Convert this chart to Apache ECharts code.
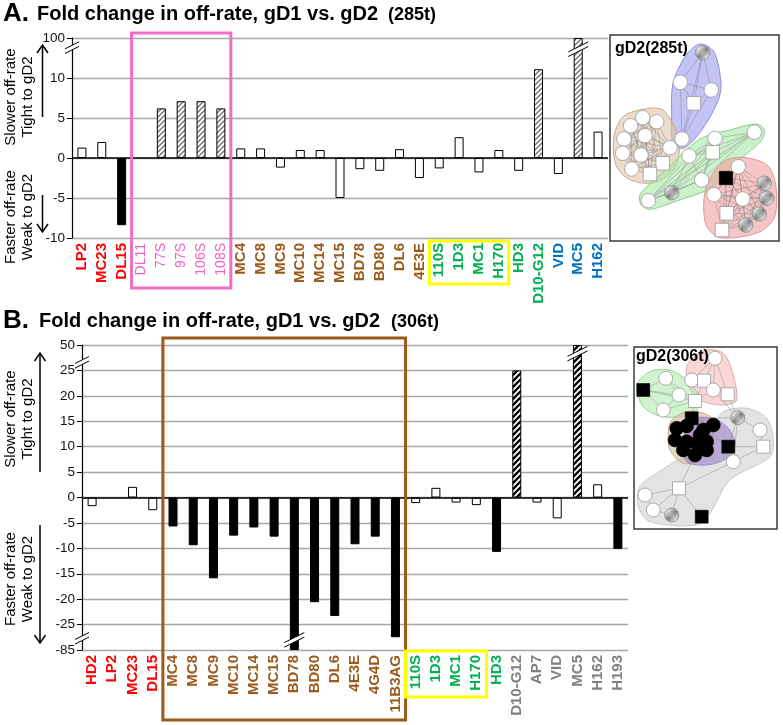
<!DOCTYPE html>
<html><head><meta charset="utf-8">
<script src="https://cdn.jsdelivr.net/npm/echarts@6/dist/echarts.min.js"></script>
<style>html,body{margin:0;padding:0;background:#fff}#c{width:783px;height:725px}</style>
</head><body><div id="c"></div>
<script>
// ---------------- Panel A data ----------------
const catsA  = ['LP2','MC23','DL15','DL11','77S','97S','106S','108S','MC4','MC8','MC9','MC10','MC14','MC15','BD78','BD80','DL6','4E3E','110S','1D3','MC1','H170','HD3','D10-G12','VID','MC5','H162'];
const groupA = ['r','r','r','p','p','p','p','p','b','b','b','b','b','b','b','b','b','b','g','g','g','g','g','g','u','u','u'];
const valsA  = [1.3,2.0,-8.4,null,6.2,7.1,7.1,6.2,1.2,1.2,-1.2,1.0,1.0,-5.0,-1.4,-1.6,1.1,-2.5,-1.3,2.6,-1.8,1.0,-1.6,11.1,-2.0,100,3.3];
const kindA  = ['w','w','k','w','h','h','h','h','w','w','w','w','w','w','w','w','w','w','w','w','w','w','w','h','w','h','w'];
const tickPosA = [-10,-5,0,5,10,15];
const tickLabA = ['-10','-5','0','5','10','100'];

// ---------------- Panel B data ----------------
const catsB  = ['HD2','LP2','MC23','DL15','MC4','MC8','MC9','MC10','MC14','MC15','BD78','BD80','DL6','4E3E','4G4D','11B3AG','110S','1D3','MC1','H170','HD3','D10-G12','AP7','VID','MC5','H162','H193'];
const groupB = ['r','r','r','r','b','b','b','b','b','b','b','b','b','b','b','b','g','g','g','g','g','y','y','y','y','y','y'];
const valsB  = [-1.7,null,2.1,-2.5,-5.7,-9.4,-15.9,-7.5,-5.9,-7.7,-85,-20.6,-23.3,-9.2,-7.7,-27.5,-1.1,1.9,-1.0,-1.5,-10.7,25,-1.0,-4.1,50,2.6,-10.1];
const kindB  = ['w','w','w','w','k','k','k','k','k','k','k','k','k','k','k','k','w','w','w','w','k','h','w','w','h','w','k'];
const tickPosB = [-30,-25,-20,-15,-10,-5,0,5,10,15,20,25,30];
const tickLabB = ['-85','-25','-20','-15','-10','-5','0','5','10','15','20','25','50'];

// ---------------- Inset networks (inset-local units) ----------------
const netA_x   = [92.7,70.3,101.3,83.7,72,   32.7,20.7,46.7,14,35,12.7,31,60,21.7,52.7,40,   105,144.3,79,91.7,38.3,102.7,61.7,   116,128.3,104,132.7,154.3,156.7,149.3,135.7,116.7,112];
const netA_y   = [17.7,47.3,55,68.3,104,   82.7,90.7,86.7,104,100.7,118.3,120,112.7,134,128.3,139,   103.3,97.3,121,145,165.7,117.3,157.7,   143,131.7,159.7,164,148.3,163.3,179,190,178.3,195];
const netA_k   = ['hc','c','c','s','c',  'c','c','c','c','c','c','c','c','c','s','s',  'c','c','c','c','c','s','hc',  'ks','c','c','c','hc','hc','hc','hc','s','s'];
const netA_cl  = [0,0,0,0,0, 1,1,1,1,1,1,1,1,1,1,1, 2,2,2,2,2,2,2, 3,3,3,3,3,3,3,3,3,3];
const hullsA = [
  [[90,9],[104,17],[111,48.3],[107.7,66.7],[91,96],[74,113],[63,109],[61.7,78.3],[63,48.3],[75.7,20.7]],
  [[26.7,75.7],[51,74],[64.3,91.7],[69.3,115],[62.7,136],[43.3,148],[19,144.3],[5.7,129.3],[4,101.7],[12.3,82.3]],
  [[30.7,158.3],[56.7,134],[90,104],[123.3,94],[146.7,89],[154.3,95],[151,106],[124.3,129.3],[101,152.7],[66.7,166],[40,174.3],[30.7,169.3]],
  [[112.3,127.3],[133.3,122.3],[157.7,130.7],[166,151.7],[164.3,182.7],[147.7,197.7],[110,202.7],[95.7,189.3],[95.7,154]]
];
const netB_x = [9.3,31.7,45,29.3,61,   81,57.7,70,79.3,93.7,   42.7,52.7,69.3,79.3,41,52.7,62.7,72.7,49.3,61,72.7,66,57.7,94.3,   103.7,126,129.3,99.3,45,11,19.3,37.7,67.7];
const netB_y = [43,31.3,48,63,54,   11.3,33,33.7,43,47.3,   81.3,79,83,78,93,94.7,96.3,94.7,103,108,103,88,71.3,99.7,   70.7,83,99.7,114.7,141.3,148,163,168,169.7];
const netB_k = ['ks','c','c','c','s',  'c','c','s','c','s',  'kc','kc','kc','kc','kc','kc','kc','kc','kc','kc','kc','kc','ks','ks',  'hc','c','s','c','s','c','c','hc','ks'];
const edgesB = [[0,1],[0,2],[0,3],[1,2],[2,3],[1,4],[2,4],[3,4],[0,4],[5,6],[5,7],[5,8],[6,7],[7,8],[8,9],[7,9],[5,9],[6,8],[4,22],[4,7],[4,8],[9,24],[8,24],[22,24],[24,25],[25,26],[26,27],[24,27],[23,24],[23,27],[23,26],[28,29],[28,30],[28,31],[28,32],[28,27],[29,30],[30,31],[28,19],[22,10],[22,13],[12,23]];
const hullsB = [
  [[53.3,36.3],[54.3,16.3],[72.7,3],[89.3,6.3],[97.7,23],[102.7,53],[89.3,58],[66,53]],
  [[2.7,38],[16,24.7],[36,23],[52.7,33],[64.3,48],[62.7,63],[46,69.7],[26,69],[9.3,59.7]],
  [[89.3,64.7],[112.7,61.3],[132.7,71.3],[139.3,93],[136,109.7],[106,126.3],[92.7,136.3],[76,166.3],[62.7,178],[16,174.7],[4.3,159.7],[6,139.7],[32.7,119.7],[59.3,103],[79.3,79.7]],
  [[37.7,73],[52.7,64.7],[69.3,66.3],[79.3,73],[77.7,93],[66,113],[49.3,116.3],[36,103],[34.3,86.3]],
  [[56,73],[79.3,71.3],[94.3,81.3],[101,96.3],[92.7,111.3],[72.7,118],[52.7,114.7],[49.3,96.3]]
];

// ---------------- styles ----------------
const FF = '"Liberation Sans", Arial, Helvetica, sans-serif';
const GROUP_COL = {r:'#ff0000', p:'#f25fc6', b:'#9b5a1c', g:'#00b050', u:'#0070c0', y:'#808080'};
const hullFillA = ['rgba(165,165,238,0.65)','rgba(222,196,170,0.6)','rgba(160,230,160,0.55)','rgba(240,160,160,0.6)'];
const hullStrokeA = ['#8c8cdc','#c9a98a','#8fd08f','#d99a9a'];
const hullFillB = ['rgba(245,180,180,0.55)','rgba(170,235,170,0.55)','rgba(215,215,215,0.7)','rgba(220,195,170,0.7)','rgba(150,120,200,0.55)'];
const hullStrokeB = ['#e0a8a8','#96d296','#c8c8c8','#c9a98a','#a090c8'];

function hatch(size, lw, col) {
  const c = document.createElement('canvas'); c.width = c.height = size;
  const g = c.getContext('2d'); g.fillStyle = '#fff'; g.fillRect(0,0,size,size);
  g.strokeStyle = col; g.lineWidth = lw; g.beginPath();
  g.moveTo(-1,size+1); g.lineTo(size+1,-1);
  g.moveTo(-2,2); g.lineTo(2,-2);
  g.moveTo(size-2,size+2); g.lineTo(size+2,size-2);
  g.stroke(); return c;
}
const patA = {image: hatch(5, 1.3, '#6e6e6e'), repeat:'repeat'};
const patB = {image: hatch(6, 2.3, '#000'), repeat:'repeat'};
const patNode = {image: hatch(4, 1.1, '#777'), repeat:'repeat'};

function dispA(v){ return v == null ? '-' : (v <= 14 ? v : 14 + (v-14)/86); }
function dispB(v){ if (v == null) return '-'; if (v > 27) return 27 + (v-27)*3/23; if (v < -28) return -28 + (v+28)*2/57; return v; }

function barStyle(k, pat){
  if (k === 'k') return {color:'#000', borderColor:'#000', borderWidth:1};
  if (k === 'h') return {color:pat, borderColor:'#000', borderWidth:1};
  return {color:'#fff', borderColor:'#000', borderWidth:1};
}
function xAxisCfg(cats, groups, gi){
  return {type:'category', gridIndex:gi,
    data: cats.map((c,i)=>({value:c, textStyle:{color:GROUP_COL[groups[i]], fontWeight: groups[i]==='p'?'normal':'bold', fontSize: groups[i]==='p'?14:15}})),
    axisLine:{show:false, onZero:false}, axisTick:{show:false}, splitLine:{show:false},
    axisLabel:{rotate:90, interval:0, fontFamily:FF, fontSize:15, margin:5}};
}
function yAxisCfg(gi, min, max, pos, lab){
  return {type:'value', gridIndex:gi, min:min, max:max, interval:5,
    axisLine:{show:true, lineStyle:{color:'#000', width:1.2}},
    axisTick:{show:true, length:5, lineStyle:{color:'#000', width:1}},
    axisLabel:{fontFamily:FF, fontSize:13.5, color:'#111', margin:7, formatter:(v)=>{const i=pos.indexOf(v); return i<0?'':lab[i];}},
    splitLine:{show:true, lineStyle:{color:'#a6a6a6', width:1.3}}};
}
function nodeItem(x, y, k, sz){
  const it = {value:[x,y]};
  if (k === 'c') { it.symbol='circle'; it.symbolSize=sz; it.itemStyle={color:'#fff', borderColor:'#9a9a9a', borderWidth:0.8}; }
  else if (k === 's') { it.symbol='rect'; it.symbolSize=sz-1; it.itemStyle={color:'#fff', borderColor:'#9a9a9a', borderWidth:0.8}; }
  else if (k === 'hc') { it.symbol='circle'; it.symbolSize=sz; it.itemStyle={color:patNode, borderColor:'#888', borderWidth:0.8}; }
  else if (k === 'ks') { it.symbol='rect'; it.symbolSize=sz-1; it.itemStyle={color:'#000', borderColor:'#000', borderWidth:0.5}; }
  else { it.symbol='circle'; it.symbolSize=sz; it.itemStyle={color:'#000', borderColor:'#000', borderWidth:0.5}; }
  it.itemStyle.opacity = 1;
  return it;
}
// edges of inset A: every pair inside one cluster
const edgesA = [];
for (let i=0;i<netA_x.length;i++) for (let j=i+1;j<netA_x.length;j++) if (netA_cl[i]===netA_cl[j]) edgesA.push([i,j]);

function hullSeries(gi, hulls, fills, strokes){
  return {type:'custom', xAxisIndex:gi, yAxisIndex:gi, silent:true, z:1,
    data: hulls.map((h,i)=>[i,0]),
    renderItem:(params, api)=>{ const i=api.value(0); return {type:'polygon', shape:{points:hulls[i].map(p=>api.coord(p)), smooth:0.3}, style:{fill:fills[i], stroke:strokes[i], lineWidth:1}}; }};
}
function edgeSeries(gi, xs, ys, edges, col){
  return {type:'custom', xAxisIndex:gi, yAxisIndex:gi, silent:true, z:2,
    data: edges.map(e=>[xs[e[0]], ys[e[0]], xs[e[1]], ys[e[1]]]),
    renderItem:(params, api)=>{ const a=api.coord([api.value(0),api.value(1)]), b=api.coord([api.value(2),api.value(3)]); return {type:'line', shape:{x1:a[0],y1:a[1],x2:b[0],y2:b[1]}, style:{stroke:col, lineWidth:0.6}}; }};
}

const chart = echarts.init(document.getElementById('c'));
const zeroLine = {silent:true, symbol:'none', label:{show:false}, lineStyle:{color:'#000', width:1.5, type:'solid'}, data:[{yAxis:0}]};
chart.setOption({
  animation:false, backgroundColor:'#fff',
  textStyle:{fontFamily:FF},
  grid:[{left:72, top:38, width:536, height:200},{left:82, top:345, width:546, height:305},
        {left:610, top:35, width:169, height:206},{left:634, top:347, width:143, height:182}],
  xAxis:[xAxisCfg(catsA, groupA, 0), xAxisCfg(catsB, groupB, 1),
         {type:'value', gridIndex:2, min:0, max:169, show:false}, {type:'value', gridIndex:3, min:0, max:143, show:false}],
  yAxis:[yAxisCfg(0, -10, 15, tickPosA, tickLabA), yAxisCfg(1, -30, 30, tickPosB, tickLabB),
         {type:'value', gridIndex:2, min:0, max:206, inverse:true, show:false}, {type:'value', gridIndex:3, min:0, max:182, inverse:true, show:false}],
  series:[
    {type:'bar', xAxisIndex:0, yAxisIndex:0, barWidth:9, silent:true, z:3,
     data: valsA.map((v,i)=>({value:dispA(v), itemStyle:barStyle(kindA[i], patA)})), markLine:zeroLine},
    {type:'bar', xAxisIndex:1, yAxisIndex:1, barWidth:9, silent:true, z:3,
     data: valsB.map((v,i)=>({value:dispB(v), itemStyle:barStyle(kindB[i], patB)})), markLine:zeroLine},
    hullSeries(2, hullsA, hullFillA, hullStrokeA),
    edgeSeries(2, netA_x, netA_y, edgesA, 'rgba(110,110,110,0.6)'),
    {type:'scatter', xAxisIndex:2, yAxisIndex:2, silent:true, z:3, itemStyle:{opacity:1}, data: netA_x.map((x,i)=>nodeItem(x, netA_y[i], netA_k[i], 14.5))},
    hullSeries(3, hullsB, hullFillB, hullStrokeB),
    edgeSeries(3, netB_x, netB_y, edgesB, 'rgba(140,140,140,0.8)'),
    {type:'scatter', xAxisIndex:3, yAxisIndex:3, silent:true, z:3, itemStyle:{opacity:1}, data: netB_x.map((x,i)=>nodeItem(x, netB_y[i], netB_k[i], 14))}
  ]
});

// ---------------- decorations ----------------
function P(gi, cat, v){ return chart.convertToPixel({gridIndex:gi}, [cat, v]); }
const bandA = 536/catsA.length, bandB = 546/catsB.length;
const G = [];
function txt(x, y, s, font, opts){ return Object.assign({type:'text', x:x, y:y, z:100, style:{text:s, font:font, fill:'#000', align:'left', verticalAlign:'middle', textAlign:'left', textVerticalAlign:'middle'}}, opts||{}); }
function vtxt(x, y, s){ return {type:'text', x:x, y:y, rotation:Math.PI/2, z:100, style:{text:s, font:'15px '+FF, fill:'#000', align:'center', verticalAlign:'middle', textAlign:'center', textVerticalAlign:'middle'}}; }
function line(x1,y1,x2,y2,col,w){ return {type:'line', z:100, shape:{x1,y1,x2,y2}, style:{stroke:col, lineWidth:w}}; }
function pl(points,col,w){ return {type:'polyline', z:100, shape:{points}, style:{stroke:col, lineWidth:w, fill:null}}; }
function box(x0,y0,x1,y1,col,w){ return {type:'rect', z:99, shape:{x:x0,y:y0,width:x1-x0,height:y1-y0}, style:{stroke:col, lineWidth:w, fill:null}}; }
function brk(cx, cy, hw, lw){
  const s=0.5, g=2.3, L=hw+4;
  return [
    {type:'polygon', z:101, shape:{points:[[cx-hw,cy+hw*s-g],[cx+hw,cy-hw*s-g],[cx+hw,cy-hw*s+g],[cx-hw,cy+hw*s+g]]}, style:{fill:'#fff'}},
    {type:'line', z:102, shape:{x1:cx-L,y1:cy+L*s-g,x2:cx+L,y2:cy-L*s-g}, style:{stroke:'#000', lineWidth:lw}},
    {type:'line', z:102, shape:{x1:cx-L,y1:cy+L*s+g,x2:cx+L,y2:cy-L*s+g}, style:{stroke:'#000', lineWidth:lw}}
  ];
}
// titles
G.push(txt(3, 14, 'A.', 'bold 26px '+FF));
G.push(txt(37, 14, 'Fold change in off-rate, gD1 vs. gD2', 'bold 20px '+FF));
G.push(txt(388, 15, '(285t)', 'bold 18px '+FF));
G.push(txt(3, 321, 'B.', 'bold 26px '+FF));
G.push(txt(39, 321, 'Fold change in off-rate, gD1 vs. gD2', 'bold 20px '+FF));
G.push(txt(391, 322, '(306t)', 'bold 18px '+FF));
// y-axis titles + arrows
[[97,217,117,45,195,232],[419,579,472,353,525,643]].forEach((r,k)=>{
  const ax = k===0 ? 42.5 : 40;
  G.push(vtxt(10.5, r[0], 'Slower off-rate')); G.push(vtxt(28, r[0], 'Tight to gD2'));
  G.push(vtxt(10.5, r[1], 'Faster off-rate')); G.push(vtxt(28, r[1], 'Weak to gD2'));
  G.push(line(ax, r[2], ax, r[3], '#000', 1.5)); G.push(pl([[ax-5.5,r[3]+8],[ax,r[3]],[ax+5.5,r[3]+8]], '#000', 1.5));
  G.push(line(ax, r[4], ax, r[5], '#000', 1.5)); G.push(pl([[ax-5.5,r[5]-8],[ax,r[5]],[ax+5.5,r[5]-8]], '#000', 1.5));
});
// highlight boxes
const pinkL = P(0,3,0)[0]-bandA/2, pinkR = P(0,7,0)[0]+bandA/2;
G.push(box(pinkL, 33, pinkR, 288, '#f06ec8', 3));
G.push(box(P(0,18,0)[0]-bandA/2, 241, P(0,21,0)[0]+bandA/2, 284, '#ffff00', 3));
G.push(box(P(1,4,0)[0]-bandB/2, 338, P(1,15,0)[0]+bandB/2, 720, '#9b5a1c', 3));
G.push(box(P(1,16,0)[0]-bandB/2, 651, P(1,19,0)[0]+bandB/2, 697, '#ffff00', 3));
// axis breaks
let p = P(0,0,13.8); G.push(...brk(72, p[1], 3, 1));
p = P(1,0,26.6); G.push(...brk(82, p[1], 3, 1));
p = P(1,0,-27.7); G.push(...brk(82, p[1], 3, 1));
// bar breaks
p = P(0,25,13.6); G.push(...brk(p[0], p[1], 6, 1));
p = P(1,24,28.3); G.push(...brk(p[0], p[1], 6, 1));
p = P(1,10,-28.0); G.push(...brk(p[0], p[1], 6, 1));
// inset frames and titles
G.push(box(610, 35, 779, 241, '#3a3a3a', 1.5));
G.push(txt(615, 49, 'gD2(285t)', 'bold 16px '+FF));
G.push(box(634, 347, 777, 529, '#3a3a3a', 1.5));
G.push(txt(636, 357, 'gD2(306t)', 'bold 16px '+FF));
chart.setOption({graphic: G});
</script></body></html>
